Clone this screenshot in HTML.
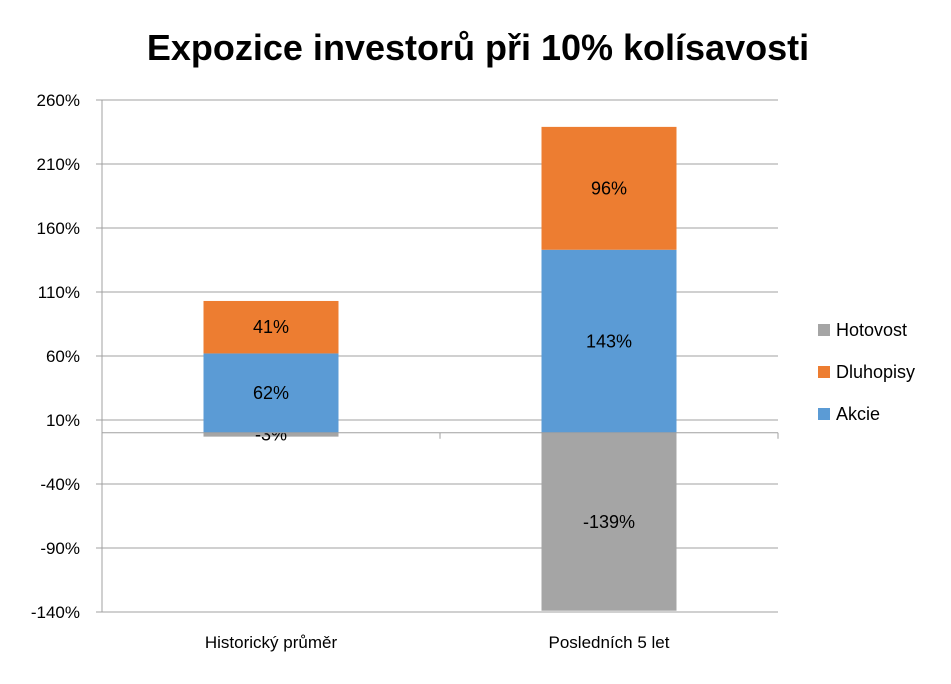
<!DOCTYPE html>
<html><head><meta charset="utf-8"><style>
body{margin:0;background:#fff;font-family:"Liberation Sans","DejaVu Sans",sans-serif;}
</style></head><body>
<svg id="chart" width="951" height="679" xmlns="http://www.w3.org/2000/svg">
<text x="478" y="60" text-anchor="middle" font-size="36" font-weight="bold" fill="#000">Expozice investorů při 10% kolísavosti</text>
<g id="grid"></g>
<g id="bars"></g>
<g id="axes"></g>
<g id="legend"></g>
</svg>
<script>
const categories = ["Historický průměr", "Posledních 5 let"];
const seriesNames = ["Hotovost", "Dluhopisy", "Akcie"];
const hotovost = [-3, -139];
const akcie = [62, 143];
const dluhopisy = [41, 96];
const tickValues = [260, 210, 160, 110, 60, 10, -40, -90, -140];
const colors = {Hotovost:"#a5a5a5", Dluhopisy:"#ed7d31", Akcie:"#5b9bd5"};

const NS = "http://www.w3.org/2000/svg";
const plotL = 102, plotR = 778, yTop = 100, yBot = 612, vMax = 260, vMin = -140;
const y = v => yTop + (vMax - v) / (vMax - vMin) * (yBot - yTop);
const catW = (plotR - plotL) / categories.length;
const xc = i => plotL + catW * (i + 0.5);
const barW = 135;
function mk(tag, attrs, parent){const e=document.createElementNS(NS,tag);for(const k in attrs)e.setAttribute(k,attrs[k]);parent.appendChild(e);return e;}
const grid=document.getElementById('grid'), bars=document.getElementById('bars'), axes=document.getElementById('axes'), legend=document.getElementById('legend');

tickValues.forEach(t=>{
  const l=mk('line',{x1:plotL-6,x2:plotR,y1:y(t),y2:y(t),stroke:'#a0a0a0','stroke-width':1},grid);
  
  
  const tx=mk('text',{x:80,y:y(t)+6,'text-anchor':'end','font-size':17,fill:'#000'},axes);
  tx.textContent=t+'%';
  
  
});
const ya=mk('line',{x1:plotL,x2:plotL,y1:yTop,y2:yBot,stroke:'#a0a0a0'},axes);



function seg(i,v0,v1,name,label){
  const top=Math.min(y(v0),y(v1)), h=Math.abs(y(v1)-y(v0));
  const r=mk('rect',{x:xc(i)-barW/2,y:top,width:barW,height:h,fill:colors[name]},bars);
  
  
  const t=mk('text',{x:xc(i),y:top+h/2+6,'text-anchor':'middle','font-size':18,fill:'#000'},bars);
  t.textContent=label+'%';
  
  
}
categories.forEach((c,i)=>{
  seg(i,0,hotovost[i],'Hotovost',hotovost[i]);
  seg(i,0,akcie[i],'Akcie',akcie[i]);
  seg(i,akcie[i],akcie[i]+dluhopisy[i],'Dluhopisy',dluhopisy[i]);
  const t=mk('text',{x:xc(i),y:648,'text-anchor':'middle','font-size':17,fill:'#000'},axes);
  t.textContent=c;
  
  
});
const xa=mk('line',{x1:plotL,x2:plotR,y1:y(0),y2:y(0),stroke:'#a0a0a0'},axes);


for(let k=1;k<=categories.length;k++){
  const tk=mk('line',{x1:plotL+catW*k,x2:plotL+catW*k,y1:y(0),y2:y(0)+6,stroke:'#a0a0a0'},axes);
  
  
}
seriesNames.forEach((n,j)=>{
  const yy=330+j*42;
  const r=mk('rect',{x:818,y:yy-6,width:12,height:12,fill:colors[n]},legend);
  
  
  const t=mk('text',{x:836,y:yy+6,'font-size':18,fill:'#000'},legend);
  t.textContent=n;
  
  
});
</script>
</body></html>
